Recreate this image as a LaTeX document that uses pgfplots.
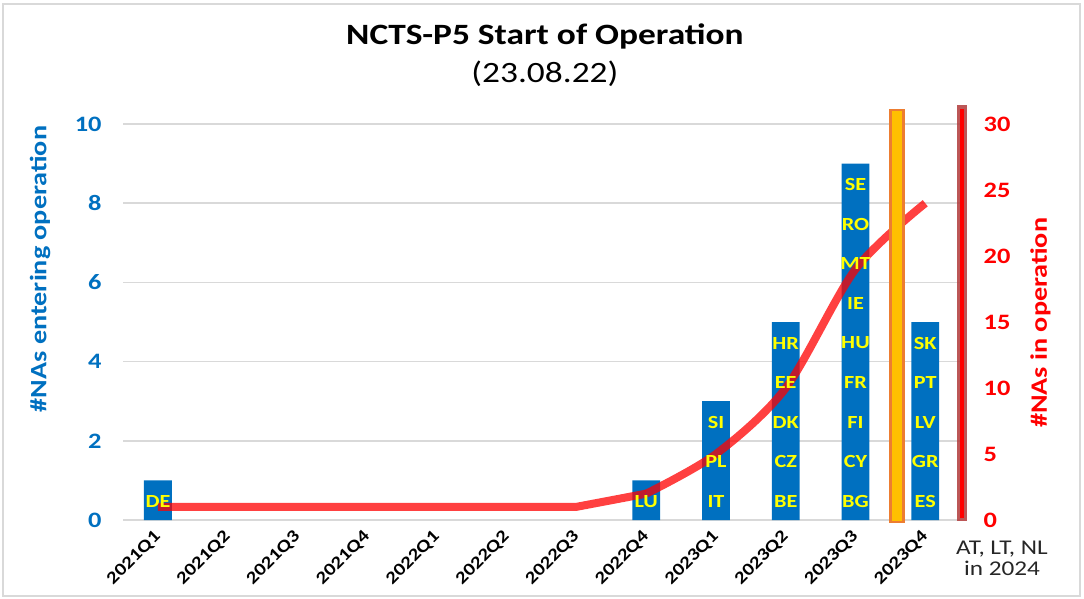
\documentclass[border=0pt]{standalone}
\usepackage{pgfplots}
\pgfplotsset{compat=1.18}
\usepackage{pgfplotstable}
\usepackage{fontspec}
\setmainfont{Carlito}[FakeStretch=1.2]

\definecolor{barblue}{HTML}{0070C0}
\definecolor{lblyellow}{HTML}{FFFF00}
\definecolor{axred}{HTML}{FF0000}
\definecolor{gridgray}{HTML}{D9D9D9}
\definecolor{goldfill}{HTML}{FFC000}
\definecolor{orangeedge}{HTML}{ED7D31}
\definecolor{darkbar}{HTML}{B03A3A}
\definecolor{txtgray}{HTML}{262626}

% NAs entering operation per quarter (0 = 2021Q1 ... 11 = 2023Q4)
\pgfplotstableread{
x y
0 1
7 1
8 3
9 5
10 9
11 5
}\entering

% cumulative NAs in operation (right axis), flat part
\pgfplotstableread{
x y
0 1
1 1
2 1
3 1
4 1
5 1
6 1
7 2
}\inopflat

% cumulative NAs in operation, smoothed part
\pgfplotstableread{
x y
7 2
8 5
9 10
10 19
11 24
}\inopcurve

% country codes stacked in the bars
\pgfplotstableread{
x y lbl
0 0.47 DE
7 0.47 LU
8 0.47 IT
8 1.47 PL
8 2.47 SI
9 0.47 BE
9 1.47 CZ
9 2.47 DK
9 3.47 EE
9 4.47 HR
10 0.47 BG
10 1.47 CY
10 2.47 FI
10 3.47 FR
10 4.47 HU
10 5.47 IE
10 6.47 MT
10 7.47 RO
10 8.47 SE
11 0.47 ES
11 1.47 GR
11 2.47 LV
11 3.47 PT
11 4.47 SK
}\countries

\pgfplotsset{
  base/.style={
    scale only axis, width=837pt, height=415pt,
    xmin=-0.5, xmax=11.5,
    axis line style={draw=none},
    major tick length=0pt,
    clip=false,
    /pgf/number format/assume math mode=true,
  },
}

\begin{document}
\begin{tikzpicture}
% left axis: bars
\begin{axis}[base,
  ymin=0, ymax=10.48,
  axis y line*=left, axis x line*=bottom,
  ytick={0,2,...,10},
  ymajorgrids, grid style={gridgray, line width=1.5pt},
  xtick={0,...,11},
  xticklabels={2021Q1,2021Q2,2021Q3,2021Q4,2022Q1,2022Q2,2022Q3,2022Q4,2023Q1,2023Q2,2023Q3,2023Q4},
  xticklabel shift=14pt,
  xticklabel style={rotate=45, anchor=east, inner sep=0pt,
    font=\fontsize{17.5}{17.5}\selectfont\bfseries},
  yticklabel style={text=barblue, font=\fontsize{22}{22}\selectfont\bfseries, xshift=-18pt},
  ylabel={\#NAs entering operation},
  ylabel style={at={(axis description cs:-0.099,0.605)}, anchor=center, text=barblue,
    font=\fontsize{23.5}{23.5}\selectfont\bfseries},
]
\addplot[ybar, bar width=0.4, fill=barblue, draw=none] table[x=x, y=y] {\entering};

\node[align=center, font=\fontsize{29.5}{38}\selectfont] at (axis description cs:0.504,1.12)
  {\textbf{NCTS-P5 Start of Operation}\\(23.08.22)};
\node[align=center, text=txtgray, font=\fontsize{21}{21}\selectfont] at (axis cs:12.1,-0.96)
  {AT, LT, NL\\in 2024};
\draw[gridgray, line width=1.5pt] (axis description cs:-0.1434,-0.1831) rectangle (axis description cs:1.1434,1.2434);
\path (axis description cs:-0.147,-0.188) rectangle (axis description cs:1.148,1.253);
\end{axis}

% right axis: cumulative line
\begin{axis}[base,
  ymin=0, ymax=31.44,
  axis y line*=right, axis x line=none,
  ytick={0,5,...,30},
  yticklabel style={text=axred, font=\fontsize{22}{22}\selectfont\bfseries, xshift=20pt},
  ylabel={\#NAs in operation},
  ylabel style={at={(axis description cs:1.096,0.475)}, anchor=center, text=axred,
    font=\fontsize{23.5}{23.5}\selectfont\bfseries},
]
\addplot[sharp plot, color=axred, opacity=0.75, line width=8pt, line cap=butt, line join=round] table[x=x, y=y] {\inopflat};
\addplot[smooth, color=axred, opacity=0.75, line width=8pt, line cap=butt] table[x=x, y=y] {\inopcurve};
\end{axis}

% overlay: labels and the two vertical markers
\begin{axis}[base, ymin=0, ymax=10.48, hide axis]
\addplot[draw=none, mark=none, nodes near coords, point meta=explicit symbolic,
  nodes near coords style={anchor=center, text=lblyellow, font=\fontsize{18.5}{18.5}\selectfont\bfseries}]
  table[x=x, y=y, meta=lbl] {\countries};
\addplot[fill=goldfill, draw=orangeedge, line width=2.5pt]
  coordinates {(10.5,-0.05) (10.69,-0.05) (10.69,10.35) (10.5,10.35)} -- cycle;
\addplot[fill=darkbar, fill opacity=0.85, draw=none]
  coordinates {(11.46,-0.03) (11.60,-0.03) (11.60,10.48) (11.46,10.48)} -- cycle;
\addplot[axred, line width=3.5pt] coordinates {(11.53,0.05) (11.53,10.38)};
\end{axis}
\end{tikzpicture}
\end{document}
